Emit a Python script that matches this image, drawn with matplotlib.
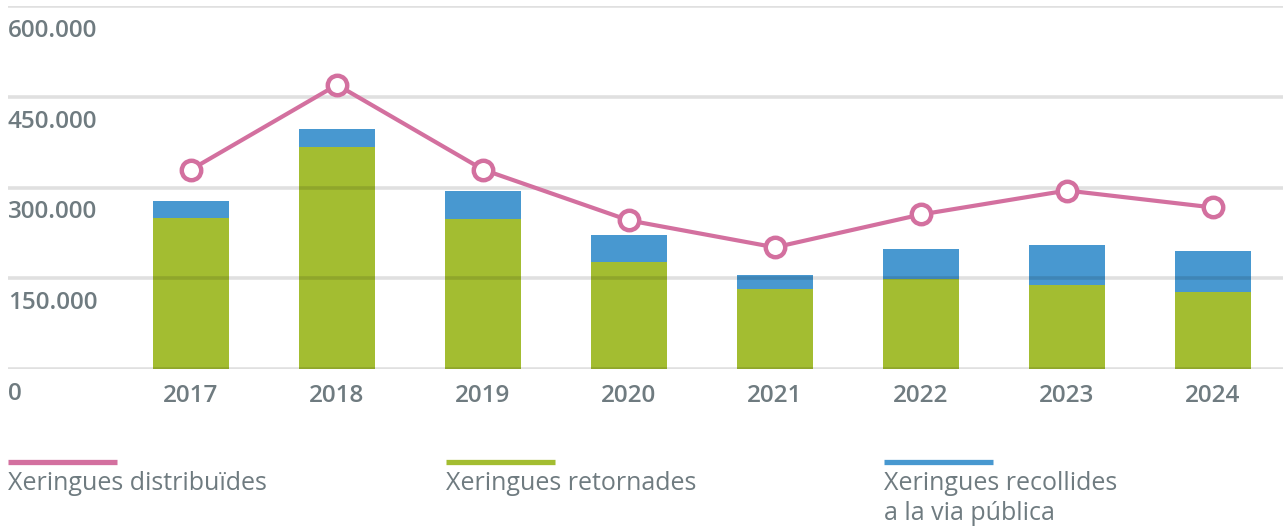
import matplotlib
matplotlib.use("Agg")
import matplotlib.pyplot as plt
from matplotlib.lines import Line2D
import numpy as np

years = ["2017", "2018", "2019", "2020", "2021", "2022", "2023", "2024"]
distribuides = [329600, 469700, 329600, 245600, 201100, 255400, 295000, 267000]
retornades = [248900, 367500, 247200, 176300, 131800, 148300, 138400, 126900]
recollides = [29600, 29700, 47800, 44500, 23100, 49500, 66000, 67600]
ytick_values = [0, 150000, 300000, 450000, 600000]
ytick_labels = ["0", "150.000", "300.000", "450.000", "600.000"]
legend_labels = [["Xeringues distribuïdes"], ["Xeringues retornades"], ["Xeringues recollides", "a la via pública"]]

PINK = "#d3709f"
GREEN = "#a3bd31"
BLUE = "#4898d0"
GRAY = "#6f7b80"

plt.rcParams['font.family'] = ['Open Sans', 'DejaVu Sans']

W, H = 1283, 526
fig = plt.figure(figsize=(W / 100, H / 100), dpi=100)
ax_left, ax_right = 8, 1283
ax_top, ax_bottom = 6, 369
ax = fig.add_axes([ax_left / W, (H - ax_bottom) / H, (ax_right - ax_left) / W, (ax_bottom - ax_top) / H])

x = np.arange(len(years))
ax.bar(x, retornades, width=0.515, color=GREEN, zorder=2)
ax.bar(x, recollides, width=0.515, bottom=retornades, color=BLUE, zorder=2)
ax.plot(x, distribuides, color=PINK, lw=3, marker='o', ms=14, mfc='white', mec=PINK, mew=3.2, zorder=4)

for v in ytick_values:
    ax.axhline(v, color='black', alpha=0.12, lw=2.6, zorder=3)

ax.set_xlim((ax_left - 191) / 146, (ax_right - 191) / 146)
ax.set_ylim(0, 600000)
for s in ax.spines.values():
    s.set_visible(False)
ax.set_yticks([])
ax.set_xticks(x)
ax.set_xticklabels(years, fontsize=17.5, fontweight='semibold', color=GRAY)
ax.tick_params(axis='x', length=0, pad=10.5)

for v, lab in zip(ytick_values, ytick_labels):
    ax.annotate(lab, xy=(0, v), xycoords=('axes fraction', 'data'), xytext=(0, -22.3),
                textcoords='offset points', ha='left', va='baseline', fontsize=17.5,
                fontweight='semibold', color=GRAY, annotation_clip=False)

# legend
leg_x = [8, 446, 884]
colors = [PINK, GREEN, BLUE]
for lx, c, lines in zip(leg_x, colors, legend_labels):
    y = (H - 462) / H
    fig.add_artist(Line2D([lx / W, (lx + 109) / W], [y, y], color=c, lw=3.8, solid_capstyle='butt'))
    for i, lab in enumerate(lines):
        fig.text(lx / W, (H - 490 - 30 * i) / H, lab, ha='left', va='baseline', fontsize=18,
                 color=GRAY)

fig.savefig("out.png", dpi=100)
